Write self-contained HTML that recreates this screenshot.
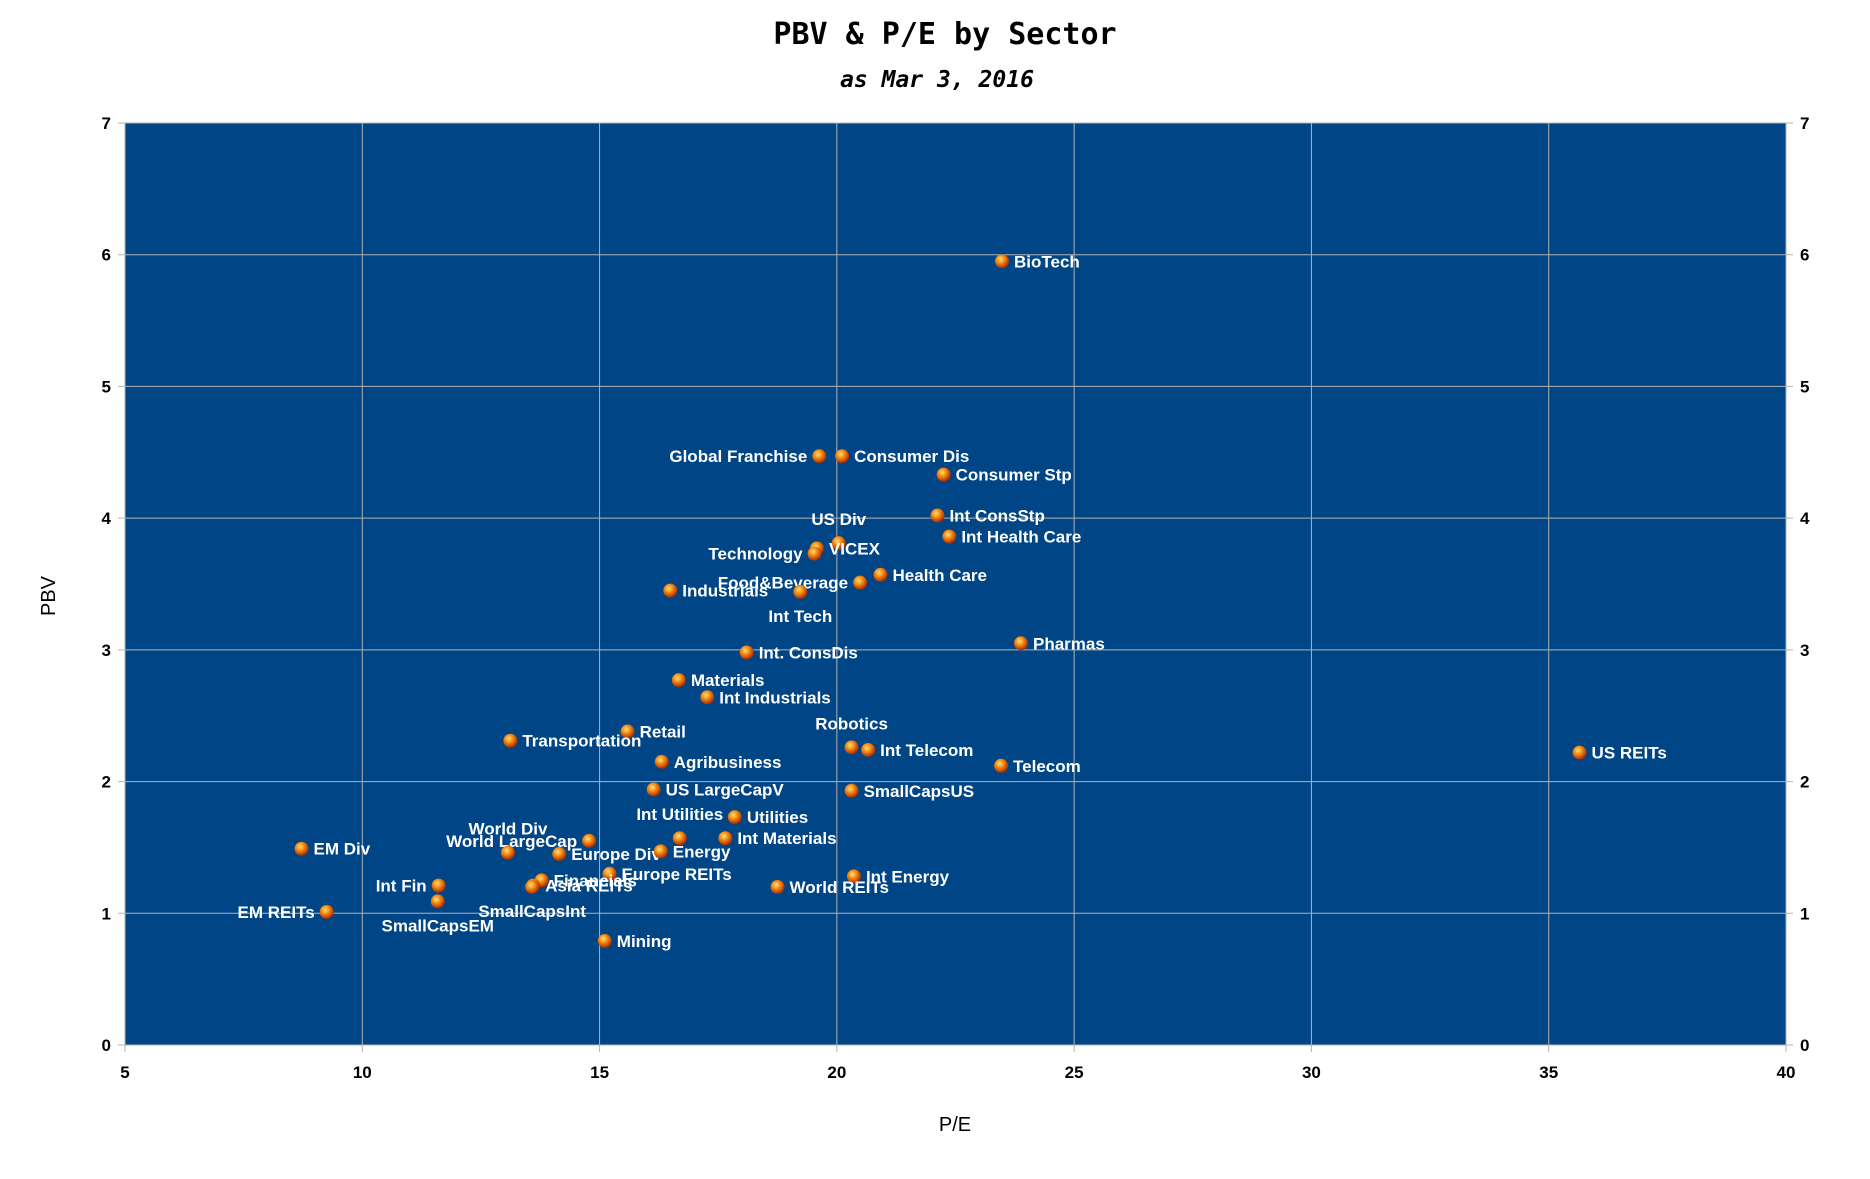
<!DOCTYPE html>
<html><head><meta charset="utf-8"><style>
body{margin:0;background:#fff;width:1870px;height:1174px;overflow:hidden}
svg text{font-family:"Liberation Sans Narrow","Liberation Sans",sans-serif}
</style></head><body>
<svg id="chart" width="1870" height="1174" xmlns="http://www.w3.org/2000/svg">
<defs>
<radialGradient id="ball" cx="40%" cy="35%" r="65%">
<stop offset="0" stop-color="#ffe27a"/><stop offset="0.45" stop-color="#f58a12"/><stop offset="1" stop-color="#a82a00"/>
</radialGradient>
</defs>
<text x="945" y="44" text-anchor="middle" style="font-family:'DejaVu Sans Mono',monospace;font-weight:bold;font-size:30px">PBV &amp; P/E by Sector</text>
<text x="937" y="87" text-anchor="middle" style="font-family:'DejaVu Sans Mono',monospace;font-weight:bold;font-style:italic;font-size:23px">as Mar 3, 2016</text>
<rect x="125" y="123" width="1661" height="922" fill="#004586"/>
<g id="grid"></g>
<g id="ticks"></g>
<text transform="translate(55,596) rotate(-90)" text-anchor="middle" font-size="20">PBV</text>
<text x="955" y="1131" text-anchor="middle" font-size="20">P/E</text>
<g id="points"></g>
</svg>
<script>
const names=["BioTech","Global Franchise","Consumer Dis","Consumer Stp","Int ConsStp","Int Health Care","US Div","VICEX","Technology","Health Care","Food&Beverage","Industrials","Int Tech","Int. ConsDis","Pharmas","Materials","Int Industrials","Retail","Transportation","Robotics","Int Telecom","US REITs","Telecom","Agribusiness","US LargeCapV","SmallCapsUS","Utilities","Int Utilities","Int Materials","World LargeCap","World Div","Europe Div","Energy","EM Div","Europe REITs","Int Energy","Financials","Asia REITs","Int Fin","World REITs","SmallCapsInt","SmallCapsEM","EM REITs","Mining"];
const peValues=[23.48,19.63,20.11,22.25,22.12,22.37,20.04,19.58,19.53,20.92,20.49,16.49,19.23,18.10,23.88,16.67,17.27,15.59,13.12,20.31,20.66,35.65,23.46,16.31,16.14,20.31,17.85,16.69,17.65,14.78,13.07,14.15,16.29,8.72,15.21,20.36,13.78,13.60,11.61,18.75,13.58,11.59,9.25,15.11];
const pbvValues=[5.95,4.47,4.47,4.33,4.02,3.86,3.81,3.77,3.73,3.57,3.51,3.45,3.44,2.98,3.05,2.77,2.64,2.38,2.31,2.26,2.24,2.22,2.12,2.15,1.94,1.93,1.73,1.57,1.57,1.55,1.46,1.45,1.47,1.49,1.30,1.28,1.25,1.21,1.21,1.20,1.20,1.09,1.01,0.79];
const labelSide=["r","l","r","r","r","r","a","r","l","r","l","r","b","r","r","r","r","r","r","a","r","r","r","r","r","r","r","a","r","l","a","r","r","r","r","r","r","r","l","r","b","b","l","r"];
const xTicks=[5,10,15,20,25,30,35,40];
const yTicks=[0,1,2,3,4,5,6,7];
const L=125,R=1786,T=123,B=1045;
const xs=v=>L+(v-5)/35*(R-L);
const ys=v=>B-v/7*(B-T);
const NS="http://www.w3.org/2000/svg";
function mk(tag,attrs,parent){const e=document.createElementNS(NS,tag);for(const k in attrs)e.setAttribute(k,attrs[k]);parent.appendChild(e);return e;}
const grid=document.getElementById('grid'),ticks=document.getElementById('ticks'),pts=document.getElementById('points');
xTicks.forEach(t=>{const x=xs(t);
 const l=mk('line',{x1:x,x2:x,y1:T,y2:B+7,stroke:'#b3b3b3','stroke-width':1},grid);
 
 
 const tx=mk('text',{x:x,y:B+33,'text-anchor':'middle','font-size':'17','font-weight':'bold'},ticks);
 tx.textContent=t;
 
 
});
yTicks.forEach(t=>{const y=ys(t);
 const l=mk('line',{x1:L-7,x2:R+7,y1:y,y2:y,stroke:'#b3b3b3','stroke-width':1},grid);
 
 
 const a=mk('text',{x:L-14,y:y+6,'text-anchor':'end','font-size':'17','font-weight':'bold'},ticks);
 a.textContent=t;
 
 
 const b=mk('text',{x:R+14,y:y+6,'text-anchor':'start','font-size':'17','font-weight':'bold'},ticks);
 b.textContent=t;
 
 
});
names.forEach((n,i)=>{const x=xs(peValues[i]),y=ys(pbvValues[i]);
 const c=mk('circle',{cx:x,cy:y,r:7,fill:'url(#ball)'},pts);
 
 
 const s=labelSide[i];let tx=x+12,ty=y+6,anc='start';
 if(s==='l'){tx=x-12;anc='end';}
 if(s==='a'){tx=x;ty=y-18;anc='middle';}
 if(s==='b'){tx=x;ty=y+30;anc='middle';}
 const t=mk('text',{x:tx,y:ty,'text-anchor':anc,'font-size':'17','font-weight':'bold',fill:'#fff'},pts);
 t.textContent=n;
 
 
});
</script>
</body></html>
